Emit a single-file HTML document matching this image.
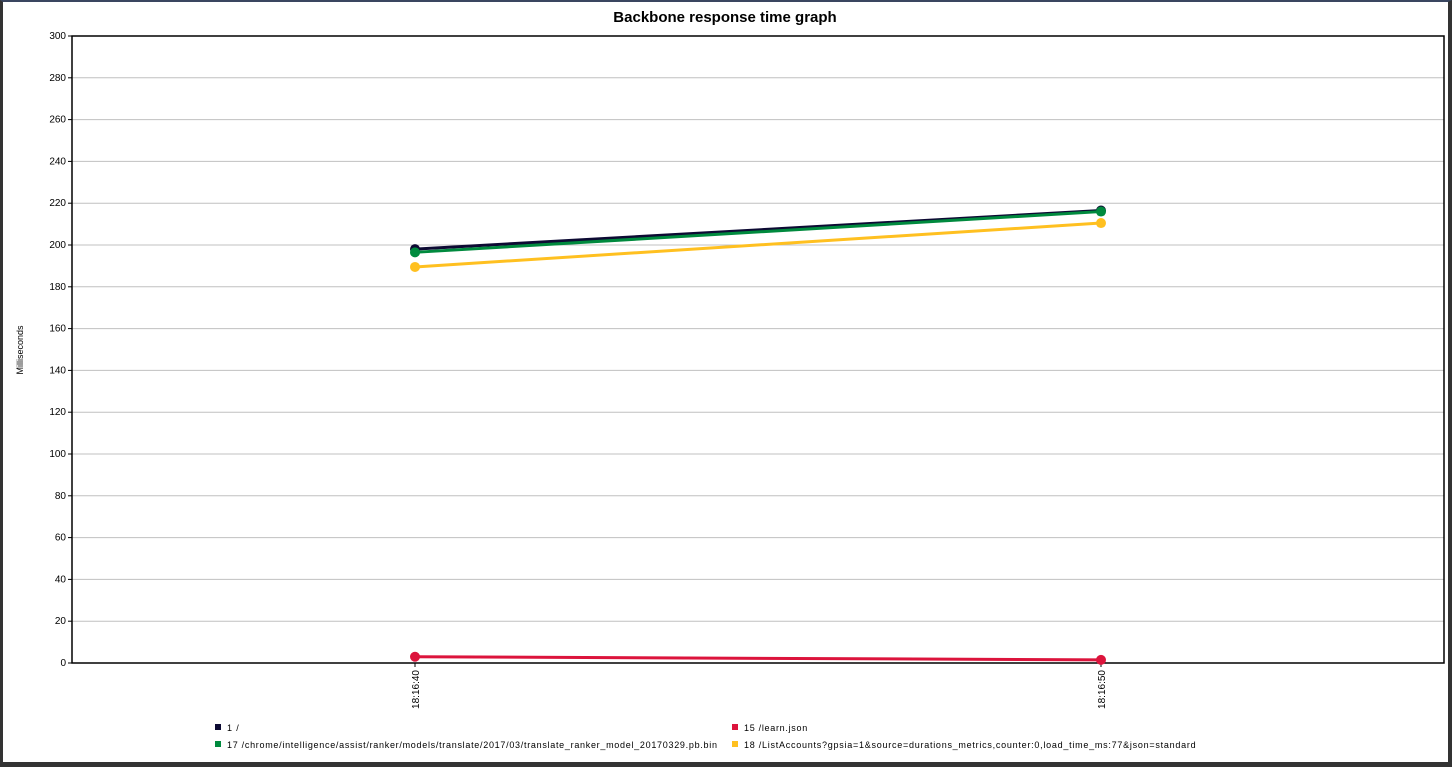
<!DOCTYPE html>
<html><head><meta charset="utf-8"><style>
body{margin:0;background:#fff;font-family:"Liberation Sans",sans-serif}
#wrap{position:absolute;left:0;top:0;width:1452px;height:767px;box-sizing:border-box;border-left:3px solid #333;border-top:2px solid #3a4660;border-right:4px solid #333;border-bottom:5px solid #333;background:#fff}
</style></head><body>
<div id="wrap"></div>
<svg id="chart" width="1452" height="767" style="position:absolute;left:0;top:0">
<text x="725" y="22" text-anchor="middle" font-size="15" font-weight="bold">Backbone response time graph</text>
<text transform="translate(23,350) rotate(-90)" text-anchor="middle" font-size="9">Milliseconds</text>
<g id="grid"></g><g id="series"></g><g id="legend"></g>
</svg>
<script>
const categories=["18:16:40","18:16:50"];
const catSeconds=[40,50];
const seriesNames=["1 /","15 /learn.json","17 /chrome/intelligence/assist/ranker/models/translate/2017/03/translate_ranker_model_20170329.pb.bin","18 /ListAccounts?gpsia=1&source=durations_metrics,counter:0,load_time_ms:77&json=standard"];
const s1=[198,216.5];
const s15=[3,1.5];
const s17=[196.5,216];
const s18=[189.5,210.5];
const yTicks=[0,20,40,60,80,100,120,140,160,180,200,220,240,260,280,300];
const colors=["#0d0a33","#dc143c","#008a3e","#ffc020"];
const NS="http://www.w3.org/2000/svg";
const L=72,R=1444,T=36,B=663;
const xs=s=>L+(s-35)/20*(R-L);
const ys=v=>B-v/300*(B-T);
function mk(tag,a,p){const e=document.createElementNS(NS,tag);for(const k in a)e.setAttribute(k,a[k]);p.appendChild(e);return e;}
const g=document.getElementById('grid');
yTicks.forEach(v=>{
 const y=ys(v);
 const l=mk('line',{x1:L,x2:R,y1:y,y2:y,stroke:'#c0c0c0','stroke-width':1},g);
 
 
 mk('line',{x1:L-4,x2:L,y1:y,y2:y,stroke:'#000'},g);
 const t=mk('text',{x:L-6,y:y+3,'text-anchor':'end','font-size':10},g);
 t.textContent=v;
 
 
});
const fr=mk('rect',{x:L,y:T,width:R-L,height:B-T,fill:'none',stroke:'#000','stroke-width':1.5},g);


categories.forEach((c,i)=>{
 const x=xs(catSeconds[i]);
 mk('line',{x1:x,x2:x,y1:B,y2:B+4,stroke:'#000'},g);
 const t=mk('text',{transform:`translate(${x+4},${B+7}) rotate(-90)`,'text-anchor':'end','font-size':10},g);
 t.textContent=c;
 
 
});
const sg=document.getElementById('series');
const data=[s1,s15,s18,s17];const cidx=[0,1,3,2];
data.forEach((d,k)=>{
 const col=colors[cidx[k]];
 const pts=d.map((v,i)=>xs(catSeconds[i])+','+ys(v)).join(' ');
 const pl=mk('polyline',{points:pts,fill:'none',stroke:col,'stroke-width':3},sg);
 
 
 d.forEach((v,i)=>{
  const c=mk('circle',{cx:xs(catSeconds[i]),cy:ys(v),r:5,fill:col},sg);
  
  
 });
});
const lg=document.getElementById('legend');
const pos=[[215,731],[732,731],[215,748],[732,748]];
seriesNames.forEach((n,i)=>{
 const [x,y]=pos[i];
 const r=mk('rect',{x:x,y:y-7,width:6,height:6,fill:colors[i]},lg);
 
 
 const t=mk('text',{x:x+12,y:y,'font-size':9},lg);
 t.textContent=n;
 
 
 const w=t.getComputedTextLength();
 if(w>0){t.setAttribute('textLength',w*1.17);t.setAttribute('lengthAdjust','spacing');}
});
</script>
</body></html>
